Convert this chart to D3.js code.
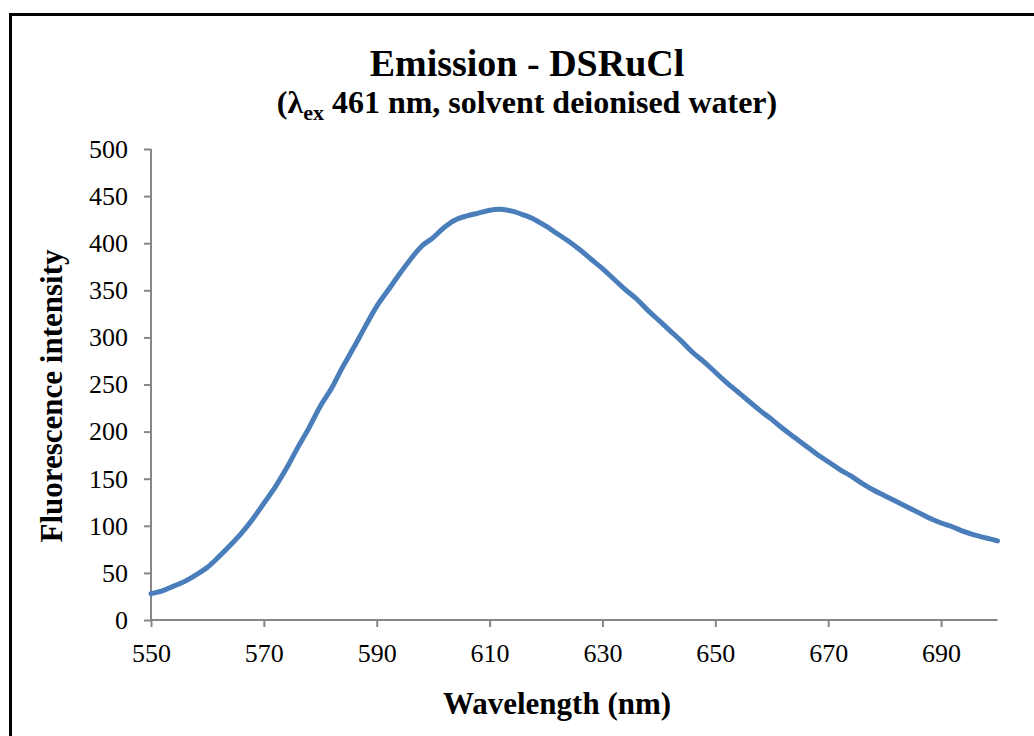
<!DOCTYPE html>
<html><head><meta charset="utf-8">
<script src="https://cdn.jsdelivr.net/npm/d3@7"></script>
<style>body{margin:0;background:#fff}svg{display:block}text{font-family:"Liberation Serif","Times New Roman",serif}</style>
</head><body>
<script>
const wavelength = [550,552,554,556,558,560,562,564,566,568,570,572,574,576,578,580,582,584,586,588,590,592,594,596,598,600,602,604,606,608,610,612,614,616,618,620,622,624,626,628,630,632,634,636,638,640,642,644,646,648,650,652,654,656,658,660,662,664,666,668,670,672,674,676,678,680,682,684,686,688,690,692,694,696,698,700];
const intensity = [28,31,36,41,48,56,67,79,92,107,124,141,161,183,204,227,246,269,290,312,333,350,367,383,397,406,417,425,429,432,435,436,434,430,425,418,410,402,393,383,373,362,351,341,329,318,307,296,284,274,263,252,242,232,222,213,203,194,185,176,168,160,153,145,138,132,126,120,114,108,103,99,94,90,87,84];
const xTicks = [550,570,590,610,630,650,670,690];
const yTicks = [0,50,100,150,200,250,300,350,400,450,500];

const W = 1034, H = 736;
const svg = d3.select("body").append("svg").attr("width", W).attr("height", H);
svg.append("rect").attr("x",10.5).attr("y",14.5).attr("width",1040).attr("height",740)
  .attr("fill","none").attr("stroke","#000").attr("stroke-width",3);

const x = d3.scaleLinear().domain([550,700]).range([151,997.5]);
const y = d3.scaleLinear().domain([0,500]).range([620,149]);
const axisColor = "#868686";

const gx = svg.append("g").attr("transform","translate(0,620)")
  .call(d3.axisBottom(x).tickValues(xTicks).tickSize(7).tickPadding(17).tickFormat(d3.format("d")));
const gy = svg.append("g").attr("transform","translate(151,0)")
  .call(d3.axisLeft(y).tickValues(yTicks).tickSize(7).tickPadding(16).tickFormat(d3.format("d")));
[gx,gy].forEach(g=>{
  g.select(".domain").attr("stroke",axisColor).attr("stroke-width",2);
  g.selectAll(".tick line").attr("stroke",axisColor).attr("stroke-width",2);
  g.selectAll(".tick text").attr("fill","#000").style("font-size","26px").style("font-family","Liberation Serif");
});
gx.select(".domain").attr("d","M151,0H997.5");
gy.select(".domain").attr("d","M0,149V620");

const line = d3.line().x((d,i)=>x(wavelength[i])).y(d=>y(d)).curve(d3.curveCatmullRom);
svg.append("path").datum(intensity).attr("d",line).attr("fill","none")
  .attr("stroke","#4a7ebb").attr("stroke-width",5).attr("stroke-linecap","round").attr("stroke-linejoin","round");

svg.append("text").attr("x",527).attr("y",76).attr("text-anchor","middle")
  .style("font-size","38px").style("font-weight","bold").text("Emission - DSRuCl");
const sub = svg.append("text").attr("x",527).attr("y",113).attr("text-anchor","middle")
  .style("font-size","32px").style("font-weight","bold");
sub.append("tspan").text("(λ");
sub.append("tspan").attr("dy",7).style("font-size","22px").text("ex");
sub.append("tspan").attr("dy",-7).text(" 461 nm, solvent deionised water)");

svg.append("text").attr("x",557).attr("y",714).attr("text-anchor","middle")
  .style("font-size","31px").style("font-weight","bold").text("Wavelength (nm)");
svg.append("text").attr("transform","translate(62,396) rotate(-90)").attr("text-anchor","middle")
  .style("font-size","31px").style("font-weight","bold").text("Fluorescence intensity");
</script>
</body></html>
